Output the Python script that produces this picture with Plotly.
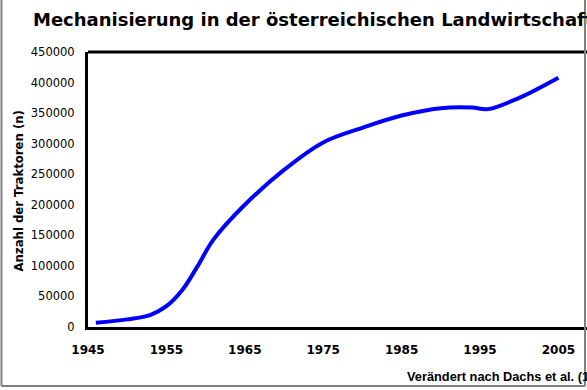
import plotly.graph_objects as go

# Anzahl der Traktoren in Österreich
years = [1946, 1950, 1953, 1955, 1957, 1959, 1961, 1965, 1970, 1975, 1980, 1985, 1990, 1994, 1996, 2000, 2005]
tractors = [7000, 12500, 20000, 34000, 60000, 100000, 143000, 200000, 257000, 302000,
            326000, 346000, 358000, 359000, 356500, 375000, 408000]

x_ticks = [1945, 1955, 1965, 1975, 1985, 1995, 2005]
y_ticks = [0, 50000, 100000, 150000, 200000, 250000, 300000, 350000, 400000, 450000]

W, H = 587, 390
L, R, T, B = 88, 0, 52, 63
pw = W - L - R
ph = H - T - B


def px_x(p):
    return (p - L) / pw


def px_y(p):
    return (H - B - p) / ph


fig = go.Figure()
fig.add_trace(go.Scatter(
    x=years, y=tractors, mode="lines",
    line=dict(color="#0000ff", width=4, shape="spline", smoothing=1.0),
    hoverinfo="skip", showlegend=False,
))

fig.update_layout(
    width=W, height=H,
    margin=dict(l=L, r=R, t=T, b=B),
    paper_bgcolor="white", plot_bgcolor="white",
    xaxis=dict(
        range=[1945, 1945 + pw / 78.4 * 10],
        tickvals=x_ticks, ticktext=[str(v) for v in x_ticks],
        showgrid=False, zeroline=False,
        showline=True, linecolor="black", linewidth=3,
        ticks="outside", ticklen=10, tickcolor="rgba(0,0,0,0)",
        tickfont=dict(family="DejaVu Sans", size=12, color="black", weight="bold"),
    ),
    yaxis=dict(
        range=[0, 450000],
        tickvals=y_ticks, ticktext=[str(v) for v in y_ticks],
        showgrid=False, zeroline=False,
        showline=True, linecolor="black", linewidth=3,
        ticks="outside", ticklen=8, tickcolor="rgba(0,0,0,0)",
        tickfont=dict(family="DejaVu Sans", size=11.5, color="black"),
    ),
    shapes=[
        # top edge of the plot frame
        dict(type="line", xref="paper", yref="paper", x0=0, x1=1.01, y0=1, y1=1,
             line=dict(color="black", width=3)),
        # outer gray frame (left, right, bottom)
        dict(type="line", xref="paper", yref="paper", x0=px_x(1.5), x1=px_x(1.5), y0=px_y(-5), y1=px_y(386),
             line=dict(color="#7f7f7f", width=2)),
        dict(type="line", xref="paper", yref="paper", x0=px_x(585), x1=px_x(585), y0=px_y(-5), y1=px_y(386),
             line=dict(color="#7f7f7f", width=2)),
        dict(type="line", xref="paper", yref="paper", x0=px_x(1.5), x1=px_x(585), y0=px_y(386), y1=px_y(386),
             line=dict(color="#7f7f7f", width=2)),
    ],
    annotations=[
        dict(text="Mechanisierung in der österreichischen Landwirtschaft",
             xref="paper", yref="paper", x=px_x(31), y=px_y(20),
             xanchor="left", yanchor="middle", showarrow=False,
             font=dict(family="DejaVu Sans", size=18, color="black", weight="bold")),
        dict(text="Anzahl der Traktoren (n)", textangle=-90,
             xref="paper", yref="paper", x=px_x(18.5), y=px_y(191),
             xanchor="center", yanchor="middle", showarrow=False,
             font=dict(family="DejaVu Sans", size=11.7, color="black", weight="bold")),
        dict(text="Verändert nach Dachs et al. (1990)",
             xref="paper", yref="paper", x=px_x(405), y=px_y(376),
             xanchor="left", yanchor="middle", showarrow=False,
             font=dict(family="Liberation Sans", size=12.8, color="black", weight="bold")),
    ],
)

fig.write_html("out.html")
